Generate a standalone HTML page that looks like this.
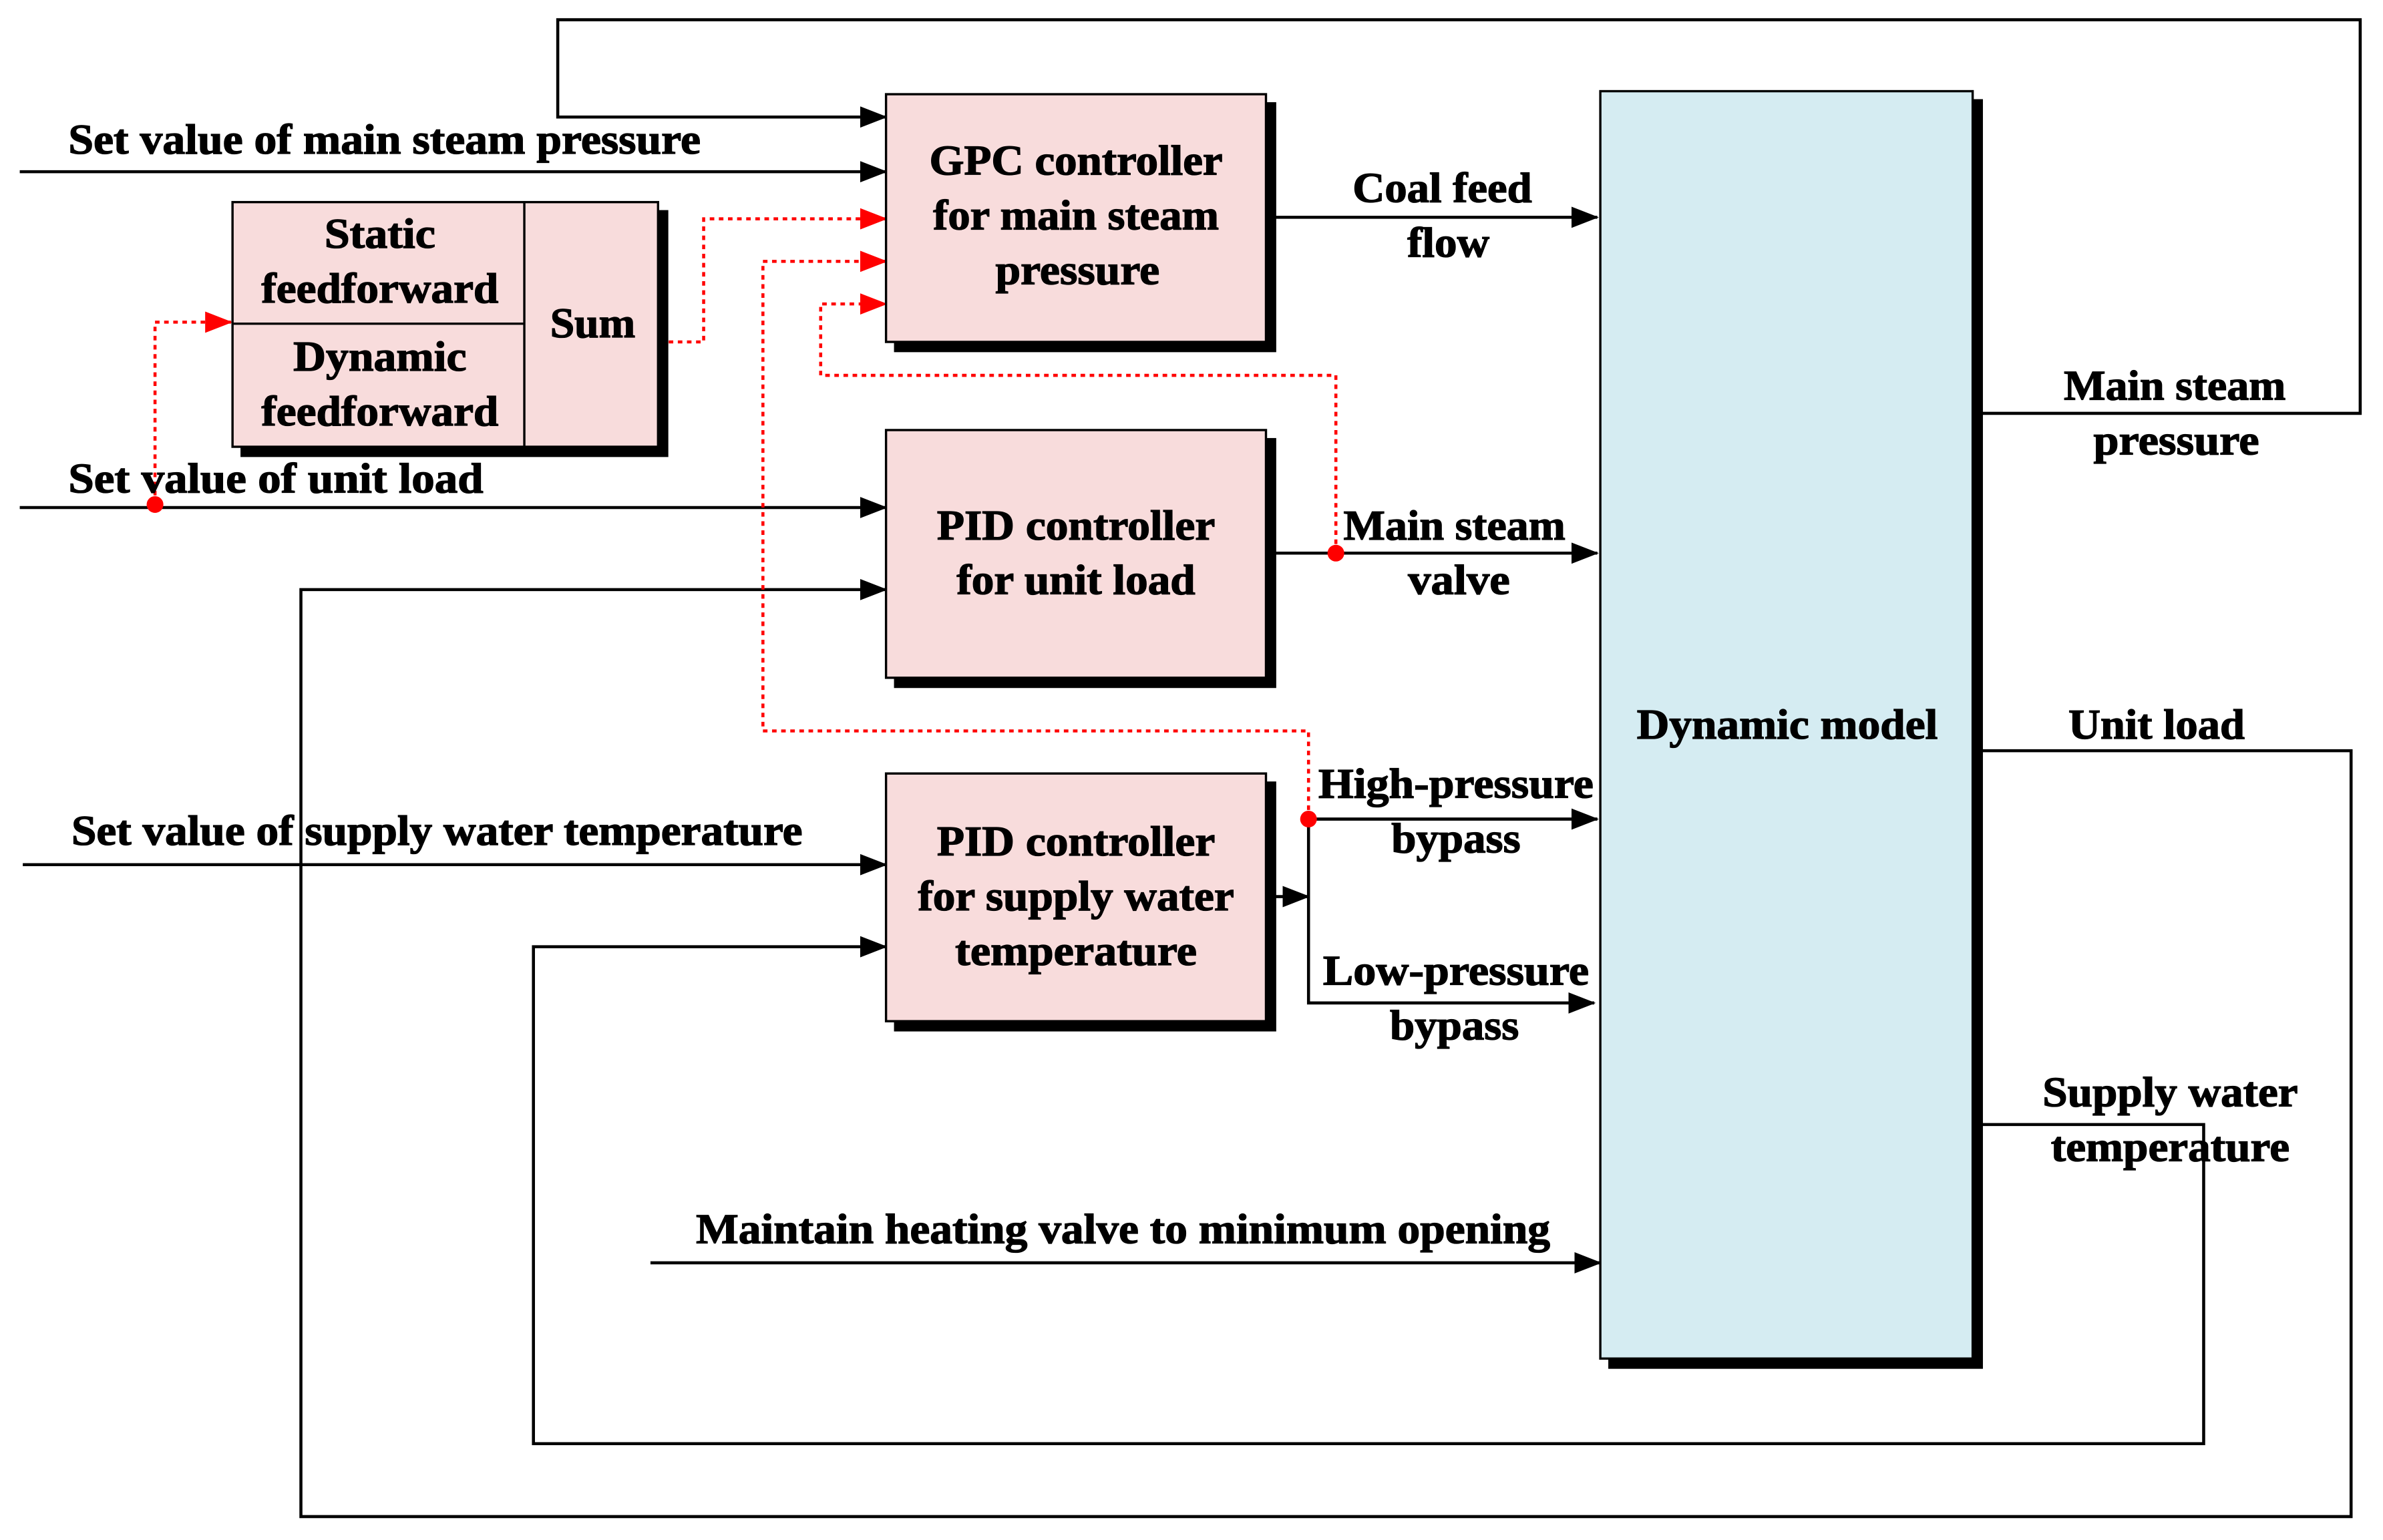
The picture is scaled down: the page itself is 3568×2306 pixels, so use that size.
<!DOCTYPE html>
<html><head><meta charset="utf-8"><style>
html,body{margin:0;padding:0;background:#fff;}
svg{display:block;}
text{font-family:"Liberation Serif",serif;font-weight:bold;font-size:28px;fill:#000;stroke:#000;stroke-width:0.6px;}
</style></head><body>
<svg width="3568" height="2306" viewBox="0 0 1568 1013.4" xmlns="http://www.w3.org/2000/svg">
<defs>
<marker id="ab" markerWidth="18" markerHeight="14" refX="17" refY="7" orient="auto" markerUnits="userSpaceOnUse"><path d="M0,0 L18,7 L0,14 Z" fill="#000"/></marker>
<marker id="ar" markerWidth="18" markerHeight="14" refX="17" refY="7" orient="auto" markerUnits="userSpaceOnUse"><path d="M0,0 L18,7 L0,14 Z" fill="#f00"/></marker>
</defs>
<g fill="none" stroke="#000" stroke-width="2">
<polyline points="1303,272 1553,272 1553,13 367,13 367,77 583,77" marker-end="url(#ab)"/>
<line x1="13" y1="113" x2="583" y2="113" marker-end="url(#ab)"/>
<line x1="13" y1="334" x2="583" y2="334" marker-end="url(#ab)"/>
<polyline points="1303,494 1547,494 1547,998 198,998 198,388 583,388" marker-end="url(#ab)"/>
<line x1="15" y1="569" x2="583" y2="569" marker-end="url(#ab)"/>
<polyline points="1303,740 1450,740 1450,950 351,950 351,623 583,623" marker-end="url(#ab)"/>
<line x1="428" y1="831" x2="1053" y2="831" marker-end="url(#ab)"/>
<line x1="838" y1="143" x2="1051" y2="143" marker-end="url(#ab)"/>
<line x1="838" y1="364" x2="1051" y2="364" marker-end="url(#ab)"/>
<line x1="838" y1="590" x2="861" y2="590" marker-end="url(#ab)"/>
<polyline points="1051,539 861,539 861,660 1049,660" marker-end="url(#ab)"/>
<line x1="861" y1="539" x2="1051" y2="539" marker-end="url(#ab)"/>
</g>
<g fill="none" stroke="#f00" stroke-width="2" stroke-dasharray="3,3">
<polyline points="102,332 102,212 152,212" marker-end="url(#ar)"/>
<polyline points="440,225 463,225 463,144 583,144" marker-end="url(#ar)"/>
<polyline points="879,364 879,247 540,247 540,200 583,200" marker-end="url(#ar)"/>
<polyline points="861,539 861,481 502,481 502,172 583,172" marker-end="url(#ar)"/>
</g>
<circle cx="102" cy="332" r="5.5" fill="#f00"/>
<circle cx="879" cy="364" r="5.5" fill="#f00"/>
<circle cx="861" cy="539" r="5.5" fill="#f00"/>
<g stroke="#000" stroke-width="1.5">
<rect x="159" y="139" width="280" height="161" fill="#000"/>
<rect x="153" y="133" width="280" height="161" fill="#f8dcdc"/>
<line x1="345" y1="133" x2="345" y2="294"/>
<line x1="153" y1="213" x2="345" y2="213"/>
<rect x="589" y="68" width="250" height="163" fill="#000"/>
<rect x="583" y="62" width="250" height="163" fill="#f8dcdc"/>
<rect x="589" y="289" width="250" height="163" fill="#000"/>
<rect x="583" y="283" width="250" height="163" fill="#f8dcdc"/>
<rect x="589" y="515" width="250" height="163" fill="#000"/>
<rect x="583" y="509" width="250" height="163" fill="#f8dcdc"/>
<rect x="1059" y="66" width="245" height="834" fill="#000"/>
<rect x="1053" y="60" width="245" height="834" fill="#d5ecf2"/>
</g>
<text x="45" y="101" textLength="416" lengthAdjust="spacingAndGlyphs">Set value of main steam pressure</text>
<text x="45" y="324" textLength="273" lengthAdjust="spacingAndGlyphs">Set value of  unit load</text>
<text x="47" y="556" textLength="481" lengthAdjust="spacingAndGlyphs">Set value of supply water temperature</text>
<text x="458" y="818" textLength="562" lengthAdjust="spacingAndGlyphs">Maintain heating valve to minimum opening</text>
<g text-anchor="middle">
<text x="708" y="115" textLength="193" lengthAdjust="spacingAndGlyphs">GPC controller</text>
<text x="708" y="151" textLength="188" lengthAdjust="spacingAndGlyphs">for main steam</text>
<text x="709" y="187" textLength="108" lengthAdjust="spacingAndGlyphs">pressure</text>
<text x="708" y="355" textLength="183" lengthAdjust="spacingAndGlyphs">PID controller</text>
<text x="708" y="391" textLength="157" lengthAdjust="spacingAndGlyphs">for unit load</text>
<text x="708" y="563" textLength="183" lengthAdjust="spacingAndGlyphs">PID controller</text>
<text x="708" y="599" textLength="208" lengthAdjust="spacingAndGlyphs">for supply water</text>
<text x="708" y="635" textLength="159" lengthAdjust="spacingAndGlyphs">temperature</text>
<text x="250" y="163" textLength="73" lengthAdjust="spacingAndGlyphs">Static</text>
<text x="250" y="199" textLength="156" lengthAdjust="spacingAndGlyphs">feedforward</text>
<text x="250" y="244" textLength="114" lengthAdjust="spacingAndGlyphs">Dynamic</text>
<text x="250" y="280" textLength="156" lengthAdjust="spacingAndGlyphs">feedforward</text>
<text x="390" y="222" textLength="56" lengthAdjust="spacingAndGlyphs">Sum</text>
<text x="949" y="133" textLength="118" lengthAdjust="spacingAndGlyphs">Coal feed</text>
<text x="953" y="169" textLength="54" lengthAdjust="spacingAndGlyphs">flow</text>
<text x="957" y="355" textLength="146" lengthAdjust="spacingAndGlyphs">Main steam</text>
<text x="960" y="391" textLength="67" lengthAdjust="spacingAndGlyphs">valve</text>
<text x="958" y="525" textLength="181" lengthAdjust="spacingAndGlyphs">High-pressure</text>
<text x="958" y="561" textLength="85" lengthAdjust="spacingAndGlyphs">bypass</text>
<text x="958" y="648" textLength="175" lengthAdjust="spacingAndGlyphs">Low-pressure</text>
<text x="957" y="684" textLength="85" lengthAdjust="spacingAndGlyphs">bypass</text>
<text x="1176" y="486" textLength="198" lengthAdjust="spacingAndGlyphs">Dynamic model</text>
<text x="1431" y="263" textLength="146" lengthAdjust="spacingAndGlyphs">Main steam</text>
<text x="1432" y="299" textLength="109" lengthAdjust="spacingAndGlyphs">pressure</text>
<text x="1419" y="486" textLength="116" lengthAdjust="spacingAndGlyphs">Unit load</text>
<text x="1428" y="728" textLength="168" lengthAdjust="spacingAndGlyphs">Supply water</text>
<text x="1428" y="764" textLength="157" lengthAdjust="spacingAndGlyphs">temperature</text>
</g>
</svg>
</body></html>
